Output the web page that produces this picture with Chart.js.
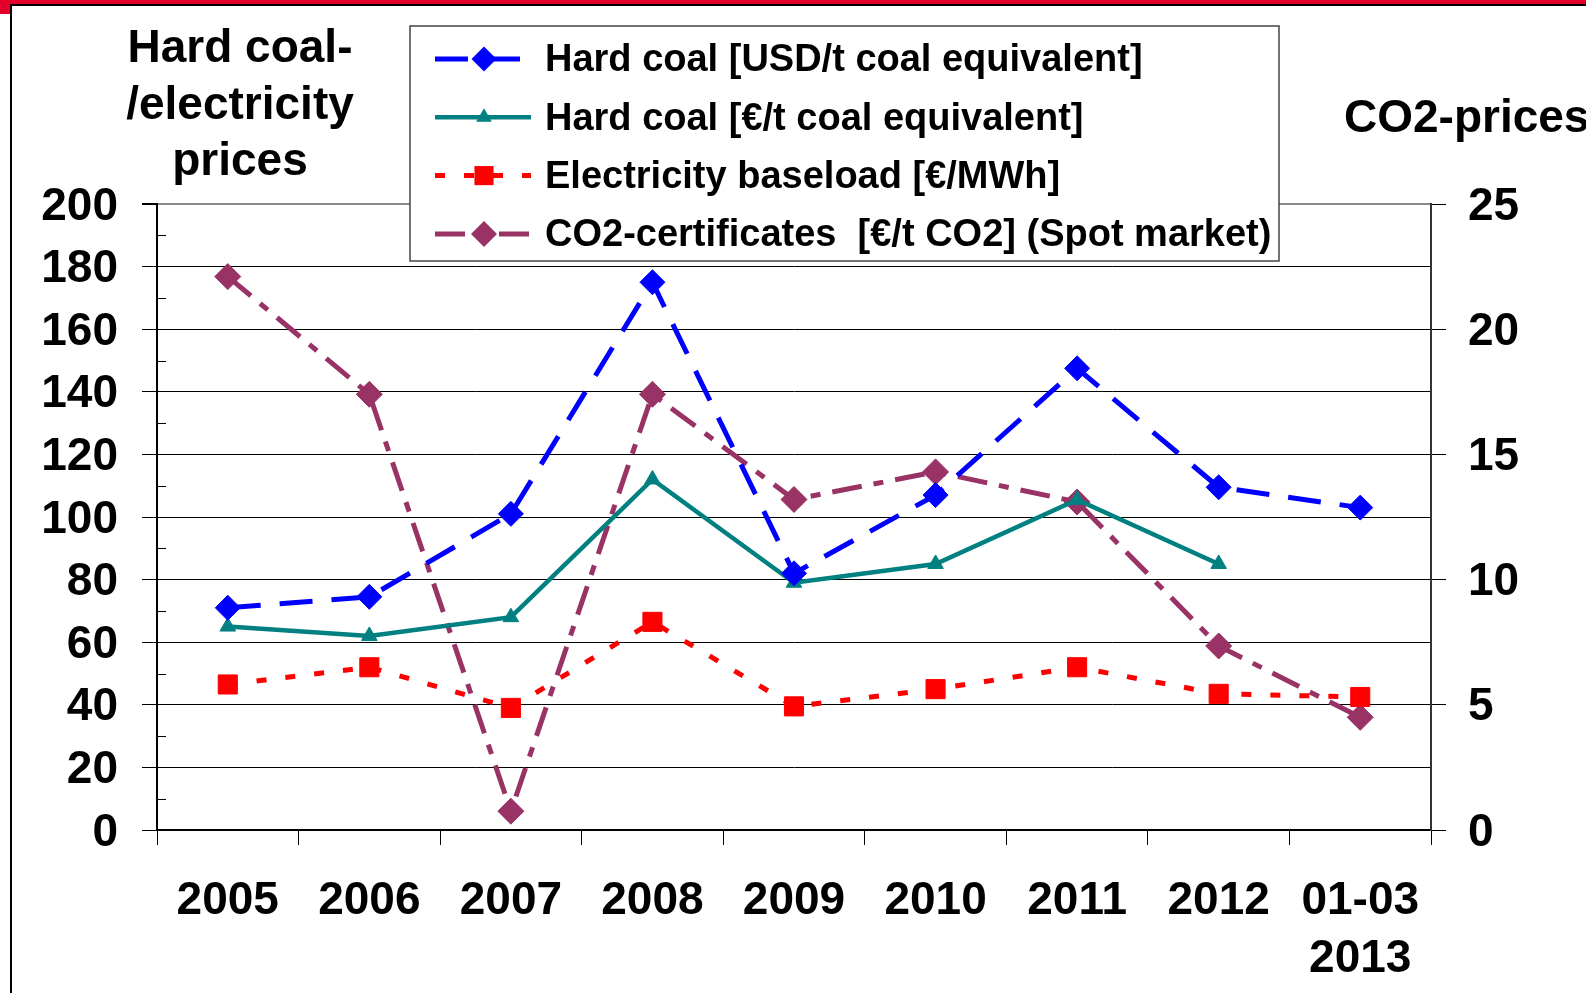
<!DOCTYPE html>
<html>
<head>
<meta charset="utf-8">
<title>Hard coal, electricity and CO2 prices</title>
<script src="https://cdn.jsdelivr.net/npm/chart.js@4.4.1/dist/chart.umd.min.js"></script>
<style>
  html, body { margin: 0; padding: 0; background: #fff; }
  #wrap { position: relative; width: 1586px; height: 993px; overflow: hidden;
          font-family: 'Liberation Sans', Arial, Helvetica, sans-serif; font-weight: bold; }
  #topband { position: absolute; left: 0; top: 0; width: 1586px; height: 4px; background: #e2002a; }
  #corner { position: absolute; left: 0; top: 0; width: 10px; height: 14px; background: #e2002a; }
  #frameTop { position: absolute; left: 10px; top: 4px; width: 1576px; height: 2px; background: #000; }
  #frameLeft { position: absolute; left: 10px; top: 4px; width: 2px; height: 989px; background: #000; }
  .title { position: absolute; font-size: 46px; line-height: 56.5px; color: #000; white-space: nowrap; }
  #leftTitle { left: 90px; width: 300px; top: 18px; text-align: center; }
  #rightTitle { left: 1344px; top: 88px; }
  canvas { position: absolute; left: 0; top: 0; }
</style>
</head>
<body>
<div id="wrap">
  <div id="topband"></div>
  <div id="corner"></div>
  <div id="frameTop"></div>
  <div id="frameLeft"></div>
  <canvas id="priceChart" width="1586" height="993"></canvas>
  <div class="title" id="leftTitle">Hard coal-<br>/electricity<br>prices</div>
  <div class="title" id="rightTitle">CO2-prices</div>
</div>
<script>
// --- Data ---
const categories = ['2005', '2006', '2007', '2008', '2009', '2010', '2011', '2012', ['01-03', '2013']];

const coalUsd = [71, 74.5, 101, 175, 82, 107, 147.5, 109.5, 103];      // USD/t coal equivalent
const coalEur = [65, 62, 68, 112, 79, 85, 105.5, 85, null];            // EUR/t coal equivalent
const electricity = [46.5, 52, 39, 66.5, 39.5, 45, 52, 43.5, 42.5];    // EUR/MWh
const co2 = [22.1, 17.4, 0.75, 17.4, 13.2, 14.3, 13.1, 7.35, 4.5];     // EUR/t CO2 (right axis)

const leftTicks = [0, 20, 40, 60, 80, 100, 120, 140, 160, 180, 200];
const rightTicks = [0, 5, 10, 15, 20, 25];

const FONT = "'Liberation Sans', Arial, Helvetica, sans-serif";

// small helper to draw the legend markers (same shapes as the chart points)
function drawMarker(ctx, style, x, y, r, color) {
    ctx.save();
    ctx.fillStyle = color;
    ctx.setLineDash([]);
    ctx.beginPath();
    if (style === 'rectRot') {
        ctx.moveTo(x, y - r); ctx.lineTo(x + r, y); ctx.lineTo(x, y + r); ctx.lineTo(x - r, y);
    } else if (style === 'rect') {
        const s = r * Math.SQRT1_2;
        ctx.rect(x - s, y - s, 2 * s, 2 * s);
    } else if (style === 'triangle') {
        ctx.moveTo(x, y - r); ctx.lineTo(x + r * 0.87, y + r * 0.5); ctx.lineTo(x - r * 0.87, y + r * 0.5);
    }
    ctx.closePath();
    ctx.fill();
    ctx.restore();
}

// Legend box in the upper middle, drawn over the plot
const boxLegend = {
    id: 'boxLegend',
    afterDraw(chart) {
        const ctx = chart.ctx;
        const left = 410, top = 26, width = 869, height = 235;
        ctx.save();
        ctx.fillStyle = '#fff';
        ctx.fillRect(left, top, width, height);
        ctx.strokeStyle = '#444';
        ctx.lineWidth = 1.5;
        ctx.strokeRect(left, top, width, height);

        chart.data.datasets.forEach((ds, i) => {
            const y = 59 + i * 58.3;
            ctx.save();
            ctx.strokeStyle = ds.borderColor;
            ctx.lineWidth = ds.borderWidth;
            ctx.setLineDash(ds.borderDash || []);
            ctx.beginPath();
            ctx.moveTo(435, y);
            ctx.lineTo(531, y);
            ctx.stroke();
            ctx.restore();
            drawMarker(ctx, ds.pointStyle, 484, y, ds.pointRadius, ds.pointBackgroundColor);

            ctx.fillStyle = '#000';
            ctx.font = 'bold 38px ' + FONT;
            ctx.textBaseline = 'middle';
            ctx.textAlign = 'left';
            ctx.fillText(ds.label, 545, y + 2);
        });
        ctx.restore();
    }
};

// Short inner minor ticks on the left axis (between the labelled values)
const minorTicks = {
    id: 'minorTicks',
    afterDatasetsDraw(chart) {
        const y = chart.scales.y;
        const ctx = chart.ctx;
        ctx.save();
        ctx.strokeStyle = '#000';
        ctx.lineWidth = 1;
        for (let i = 0; i < leftTicks.length - 1; i++) {
            const v = (leftTicks[i] + leftTicks[i + 1]) / 2;
            const py = Math.round(y.getPixelForValue(v)) + 0.5;
            ctx.beginPath();
            ctx.moveTo(y.right, py);
            ctx.lineTo(y.right + 9, py);
            ctx.stroke();
        }
        ctx.restore();
    }
};

const ctx = document.getElementById('priceChart').getContext('2d');

const tickFont = { family: FONT, size: 46, weight: 'bold', lineHeight: 1.26 };

new Chart(ctx, {
    type: 'line',
    data: {
        labels: categories,
        datasets: [
            {
                label: 'Hard coal [USD/t coal equivalent]',
                data: coalUsd,
                yAxisID: 'y',
                borderColor: '#0000ff',
                borderWidth: 5,
                borderDash: [33, 19],
                pointStyle: 'rectRot',
                pointRadius: 12.5,
                pointBackgroundColor: '#0000ff',
                pointBorderColor: '#0000ff',
                pointBorderWidth: 1
            },
            {
                label: 'Hard coal [€/t coal equivalent]',
                data: coalEur,
                yAxisID: 'y',
                borderColor: '#008080',
                borderWidth: 4.5,
                borderDash: [],
                pointStyle: 'triangle',
                pointRadius: 9,
                pointBackgroundColor: '#008080',
                pointBorderColor: '#008080',
                pointBorderWidth: 1
            },
            {
                label: 'Electricity baseload [€/MWh]',
                data: electricity,
                yAxisID: 'y',
                borderColor: '#ff0000',
                borderWidth: 5,
                borderDash: [10, 19],
                pointStyle: 'rect',
                pointRadius: 13.5,
                pointBackgroundColor: '#ff0000',
                pointBorderColor: '#ff0000',
                pointBorderWidth: 1
            },
            {
                label: 'CO2-certificates  [€/t CO2] (Spot market)',
                data: co2,
                yAxisID: 'y1',
                borderColor: '#993366',
                borderWidth: 5,
                borderDash: [30, 12, 10, 12],
                pointStyle: 'rectRot',
                pointRadius: 13,
                pointBackgroundColor: '#993366',
                pointBorderColor: '#993366',
                pointBorderWidth: 1
            }
        ]
    },
    options: {
        responsive: false,
        animation: false,
        spanGaps: false,
        layout: { padding: { top: 204, left: 0, right: 0, bottom: 0 } },
        plugins: {
            legend: { display: false },
            tooltip: { enabled: false }
        },
        elements: { line: { tension: 0 } },
        scales: {
            x: {
                offset: true,
                grid: { offset: true, drawOnChartArea: false, tickLength: 15, color: '#000', lineWidth: 1 },
                border: { color: '#000', width: 2 },
                ticks: { font: tickFont, color: '#000', padding: 27, maxRotation: 0, autoSkip: false },
                afterFit: (scale) => { scale.height = 163; }
            },
            y: {
                position: 'left',
                min: leftTicks[0],
                max: leftTicks[leftTicks.length - 1],
                ticks: { stepSize: leftTicks[1] - leftTicks[0], font: tickFont, color: '#000', padding: 24, labelOffset: 3 },
                grid: {
                    color: (c) => (c.tick && c.tick.value === leftTicks[leftTicks.length - 1]) ? '#8a8a8a' : '#000',
                    lineWidth: (c) => (c.tick && c.tick.value === leftTicks[leftTicks.length - 1]) ? 2 : 1,
                    tickColor: '#000',
                    tickLength: 15
                },
                border: { color: '#000', width: 2 },
                afterFit: (scale) => { scale.width = 157; }
            },
            y1: {
                position: 'right',
                min: rightTicks[0],
                max: rightTicks[rightTicks.length - 1],
                ticks: { stepSize: rightTicks[1] - rightTicks[0], font: tickFont, color: '#000', padding: 22, labelOffset: 3 },
                grid: { drawOnChartArea: false, color: '#000', tickLength: 15 },
                border: { color: '#333', width: 2 },
                afterFit: (scale) => { scale.width = 155; }
            }
        }
    },
    plugins: [minorTicks, boxLegend]
});
</script>
</body>
</html>
